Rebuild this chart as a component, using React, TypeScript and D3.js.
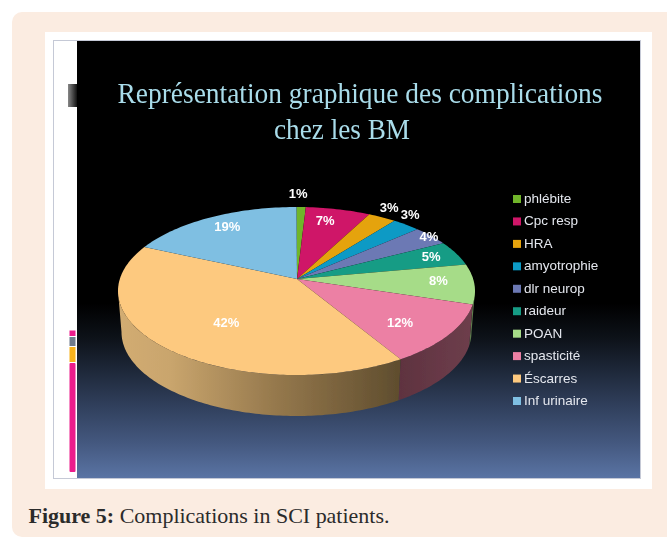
import React from "react";
import * as d3 from "d3";

// ---- data ----
const categories = ["phlébite", "Cpc resp", "HRA", "amyotrophie", "dlr neurop", "raideur", "POAN", "spasticité", "Éscarres", "Inf urinaire"];
const percents = [1, 7, 3, 3, 4, 5, 8, 12, 42, 19];
const colors = ["#6fb52c", "#cf1367", "#e5a30c", "#0a9ac5", "#6c79b4", "#179c85", "#a6dc88", "#ec80a4", "#fdc97f", "#7fbfe2"];
const titleLines = ["Représentation graphique des complications", "chez les BM"];
const captionBold = "Figure 5:";
const captionRest = " Complications in SCI patients.";

// ---- layout ----
const W = 667, H = 538;
const TOP = { cx: 296.5, cy: 291, rx: 178.5, ry: 84 };
const BOTTOM = { cx: 296.5, cy: 332, rx: 175, ry: 84 };
const APEX = { x: 297, y: 279 };
const PERSPECTIVE = 0.866;
const labelNudges = [[-3, -13], [-13, 12], [7, -9], [4, -10], [-2, 1], [-25, 4], [-36, -3], [-49, -12], [61, -25], [16.5, 10]];

const TAU = Math.PI * 2;
// true pie angle -> angle on the foreshortened rim (camera perspective)
const project = (a: number) => {
  const turns = Math.floor((a + Math.PI) / TAU);
  const r = a - turns * TAU;
  return 2 * Math.atan(PERSPECTIVE * Math.tan(r / 2)) + turns * TAU;
};
const rim = (e: typeof TOP, t: number): [number, number] => [e.cx + e.rx * Math.sin(t), e.cy - e.ry * Math.cos(t)];
const linePath = d3.line();
const sample = (t0: number, t1: number) => {
  const n = Math.max(2, Math.ceil(Math.abs(t1 - t0) / 0.02));
  return d3.range(n + 1).map((i) => t0 + ((t1 - t0) * i) / n);
};

const pieGen = d3.pie<number>().sort(null).value((d) => d);
const arcs = pieGen(percents);

const legendY = d3.scalePoint<string>().domain(categories).range([199, 401]);

export default function App() {
  const slices = arcs.map((a, i) => {
    const t0 = project(a.startAngle), t1 = project(a.endAngle);
    const mid = project((a.startAngle + a.endAngle) / 2);
    const top = sample(t0, t1).map((t) => rim(TOP, t));
    const path = linePath([[APEX.x, APEX.y], ...top])! + "Z";
    const [ex, ey] = rim(TOP, mid);
    return { i, t0, t1, path, lx: ex + labelNudges[i][0], ly: ey + labelNudges[i][1] };
  });

  const wall = (t0: number, t1: number) => {
    const a = Math.max(t0, Math.PI / 2), b = Math.min(t1, (3 * Math.PI) / 2);
    if (b <= a) return null;
    const ts = sample(a, b);
    return linePath([...ts.map((t) => rim(TOP, t)), ...ts.slice().reverse().map((t) => rim(BOTTOM, t))])! + "Z";
  };

  return (
    <svg width={W} height={H} viewBox={`0 0 ${W} ${H}`} style={{ position: "absolute", left: 0, top: 0, display: "block" }}>
      <defs>
        <linearGradient id="bg" x1="0" y1="0" x2="0" y2="1">
          <stop offset="0" stopColor="#000" />
          <stop offset="0.6" stopColor="#000" />
          <stop offset="0.68" stopColor="#0d1219" />
          <stop offset="0.83" stopColor="#2f3e5a" />
          <stop offset="0.92" stopColor="#44587f" />
          <stop offset="1" stopColor="#5a74a4" />
        </linearGradient>
        <linearGradient id="wallE" gradientUnits="userSpaceOnUse" x1="120" y1="0" x2="400" y2="0">
          <stop offset="0" stopColor="#d2ac72" />
          <stop offset="0.18" stopColor="#c9a56d" />
          <stop offset="0.55" stopColor="#96794d" />
          <stop offset="1" stopColor="#5f4d2e" />
        </linearGradient>
        <linearGradient id="wallS" gradientUnits="userSpaceOnUse" x1="400" y1="0" x2="475" y2="0">
          <stop offset="0" stopColor="#5f3340" />
          <stop offset="1" stopColor="#6e3e4c" />
        </linearGradient>
        <linearGradient id="block" x1="0" y1="0" x2="1" y2="0">
          <stop offset="0" stopColor="#888" />
          <stop offset="1" stopColor="#111" />
        </linearGradient>
        <filter id="soft" x="-5%" y="-5%" width="110%" height="110%"><feGaussianBlur stdDeviation="0.6" /></filter>
        <filter id="softText" x="-5%" y="-20%" width="110%" height="140%"><feGaussianBlur stdDeviation="0.5" /></filter>
      </defs>

      <rect x={0} y={0} width={W} height={H} fill="#fff" />
      <rect x={12} y={12} width={W + 20} height={525} rx={10} fill="#fbece1" />
      <rect x={45} y={32} width={607} height={457} fill="#fff" />
      <rect x={53.5} y={40.5} width={587} height={438} fill="#fff" stroke="#c5c9d6" strokeWidth={1} />
      <rect x={77} y={41} width={563} height={437} fill="url(#bg)" />
      <rect x={68} y={84} width={9} height={23} fill="url(#block)" />
      <rect x={69.5} y={330.5} width={6} height={5.5} fill="#ec1c8c" />
      <rect x={69.5} y={337} width={6} height={9} fill="#6f7b8c" />
      <rect x={69.5} y={347} width={6} height={15} fill="#f7b21b" />
      <rect x={69.5} y={363} width={6} height={109} fill="#ec1c8c" rx={1} />

      <g filter="url(#softText)" fontFamily="'Liberation Serif', serif" fontSize={29} fill="#a9dcea" textAnchor="middle">
        <text x={360} y={103} textLength={485} lengthAdjust="spacingAndGlyphs">{titleLines[0]}</text>
        <text x={342} y={139} textLength={136} lengthAdjust="spacingAndGlyphs">{titleLines[1]}</text>
      </g>

      <g filter="url(#soft)">
        {slices.map((s) => {
          const d = wall(s.t0, s.t1);
          if (!d) return null;
          const fill = s.i === 8 ? "url(#wallE)" : s.i === 7 ? "url(#wallS)" : d3.color(colors[s.i])!.darker(1.6).formatHex();
          return <path key={s.i} d={d} fill={fill} />;
        })}
        {slices.map((s) => <path key={s.i} d={s.path} fill={colors[s.i]} />)}
      </g>

      <g filter="url(#softText)" fontFamily="'Liberation Sans', sans-serif" fontSize={13} fontWeight={700} fill="#fff" textAnchor="middle">
        {slices.map((s) => <text key={s.i} x={s.lx} y={s.ly + 4}>{percents[s.i]}%</text>)}
      </g>

      <g filter="url(#softText)" fontFamily="'Liberation Sans', sans-serif" fontSize={13.5} fill="#e4e7ee">
        {categories.map((c, i) => (
          <g key={c}>
            <rect x={513} y={legendY(c)! - 4} width={8} height={8} fill={colors[i]} />
            <text x={524} y={legendY(c)! + 4}>{c}</text>
          </g>
        ))}
      </g>

      <text x={28.5} y={523} fontFamily="'Liberation Serif', serif" fontSize={21} fill="#2b2b2b" textLength={361} lengthAdjust="spacingAndGlyphs">
        <tspan fontWeight={700}>{captionBold}</tspan>
        <tspan>{captionRest}</tspan>
      </text>
    </svg>
  );
}
